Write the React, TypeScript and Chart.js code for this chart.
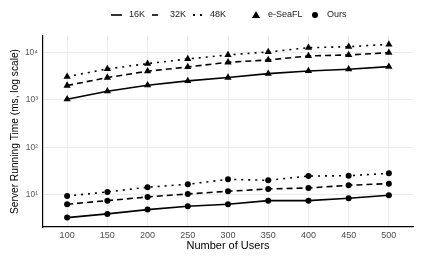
import React, { useEffect, useRef } from "react";
import { Chart, registerables } from "chart.js";

Chart.register(...registerables);

const users = [100, 150, 200, 250, 300, 350, 400, 450, 500];
const eSeaFL16K = [1030, 1520, 2030, 2500, 2940, 3560, 4050, 4400, 4990];
const eSeaFL32K = [2000, 2940, 3990, 4910, 6160, 6900, 8360, 8780, 9820];
const eSeaFL48K = [3080, 4470, 5770, 7240, 8780, 10140, 12480, 13100, 14700];
const ours16K = [3.34, 4.0, 4.92, 5.8, 6.38, 7.6, 7.6, 8.5, 9.86];
const ours32K = [6.38, 7.6, 9.08, 10.5, 11.95, 13.4, 14.0, 16.0, 17.3];
const ours48K = [9.5, 11.6, 14.5, 16.8, 21.3, 20.3, 25.0, 25.4, 28.5];
const yTickValues = [10, 100, 1000, 10000];
const yTickLabels = ["10¹", "10²", "10³", "10⁴"];
const sizeLabels = ["16K", "32K", "48K"];
const methodLabels = ["e-SeaFL", "Ours"];

const FONT = "'Liberation Sans', Arial, Helvetica, sans-serif";
const SOLID: number[] = [];
const DASHED = [6, 4];
const DOTTED = [2, 5];

function toPoints(vals: number[]) {
  return users.map((u, i) => ({ x: u, y: vals[i] }));
}

const legendPlugin = {
  id: "customLegend",
  afterDraw(chart: any) {
    const ctx = chart.ctx as CanvasRenderingContext2D;
    const y = 15;
    ctx.save();
    ctx.strokeStyle = "#000";
    ctx.fillStyle = "#000";
    ctx.lineWidth = 1.6;
    ctx.beginPath();
    ctx.moveTo(111, y);
    ctx.lineTo(122, y);
    ctx.stroke();
    ctx.beginPath();
    ctx.moveTo(152, y);
    ctx.lineTo(158, y);
    ctx.stroke();
    ctx.fillRect(193, y - 1, 2, 2);
    ctx.fillRect(200, y - 1, 2, 2);
    ctx.beginPath();
    ctx.moveTo(256, y - 4);
    ctx.lineTo(260, y + 3);
    ctx.lineTo(252, y + 3);
    ctx.closePath();
    ctx.fill();
    ctx.beginPath();
    ctx.arc(315, y, 3, 0, Math.PI * 2);
    ctx.fill();

    ctx.font = `9px ${FONT}`;
    ctx.textBaseline = "middle";
    ctx.textAlign = "left";
    ctx.fillStyle = "#1a1a1a";
    ctx.fillText(sizeLabels[0], 129, y);
    ctx.fillText(sizeLabels[1], 170, y);
    ctx.fillText(sizeLabels[2], 210, y);
    ctx.fillText(methodLabels[0], 268, y);
    ctx.fillText(methodLabels[1], 327, y);
    ctx.restore();
  },
};

export default function App() {
  const ref = useRef<HTMLCanvasElement | null>(null);

  useEffect(() => {
    if (!ref.current) return;
    const mk = (vals: number[], dash: number[], style: string, r: number, label: string) => ({
      label,
      data: toPoints(vals),
      borderColor: "#000",
      backgroundColor: "#000",
      borderWidth: 1.6,
      borderDash: dash,
      pointStyle: style,
      pointRadius: r,
      pointBorderWidth: 0,
      pointBackgroundColor: "#000",
      tension: 0,
    });
    const chart = new Chart(ref.current, {
      type: "line",
      data: {
        datasets: [
          mk(eSeaFL16K, SOLID, "triangle", 4.2, "e-SeaFL 16K"),
          mk(eSeaFL32K, DASHED, "triangle", 4.2, "e-SeaFL 32K"),
          mk(eSeaFL48K, DOTTED, "triangle", 4.2, "e-SeaFL 48K"),
          mk(ours16K, SOLID, "circle", 3, "Ours 16K"),
          mk(ours32K, DASHED, "circle", 3, "Ours 32K"),
          mk(ours48K, DOTTED, "circle", 3, "Ours 48K"),
        ] as any,
      },
      options: {
        animation: false,
        responsive: false,
        maintainAspectRatio: false,
        layout: { padding: { left: 0, right: 12, top: 36, bottom: 0 } },
        plugins: { legend: { display: false }, tooltip: { enabled: false } },
        scales: {
          x: {
            type: "linear",
            min: 70,
            max: 530,
            afterBuildTicks: (scale: any) => {
              scale.ticks = users.map((v) => ({ value: v }));
            },
            afterFit: (scale: any) => {
              scale.height = 35;
            },
            grid: { color: "#ebebeb", lineWidth: 1, drawTicks: false },
            border: { display: true, color: "#000", width: 1.2 },
            ticks: {
              color: "#4d4d4d",
              font: { family: FONT, size: 9 },
              padding: 3,
              maxRotation: 0,
              callback: (v: any) => String(v),
            },
            title: {
              display: true,
              text: "Number of Users",
              color: "#000",
              font: { family: FONT, size: 11 },
              padding: { top: 0, bottom: 9.4 },
            },
          },
          y: {
            type: "logarithmic",
            min: 2.12,
            max: 22000,
            afterBuildTicks: (scale: any) => {
              scale.ticks = yTickValues.map((v) => ({ value: v }));
            },
            afterFit: (scale: any) => {
              scale.width = 43;
            },
            grid: { color: "#ebebeb", lineWidth: 1, drawTicks: false },
            border: { display: true, color: "#000", width: 1.2 },
            ticks: {
              color: "#5a5a5a",
              font: { family: FONT, size: 8.5 },
              padding: 5,
              callback: (v: any) => {
                const i = yTickValues.indexOf(Number(v));
                return i >= 0 ? yTickLabels[i] : "";
              },
            },
            title: {
              display: true,
              text: "Server Running Time (ms, log scale)",
              color: "#000",
              font: { family: FONT, size: 10.2 },
              padding: { top: 8.9, bottom: 0 },
            },
          },
        },
      } as any,
      plugins: [legendPlugin],
    });
    return () => chart.destroy();
  }, []);

  return (
    <div style={{ position: "absolute", left: 0, top: 0, width: 425, height: 262, background: "#fff" }}>
      <canvas ref={ref} width={425} height={262} style={{ width: 425, height: 262, display: "block" }} />
    </div>
  );
}
